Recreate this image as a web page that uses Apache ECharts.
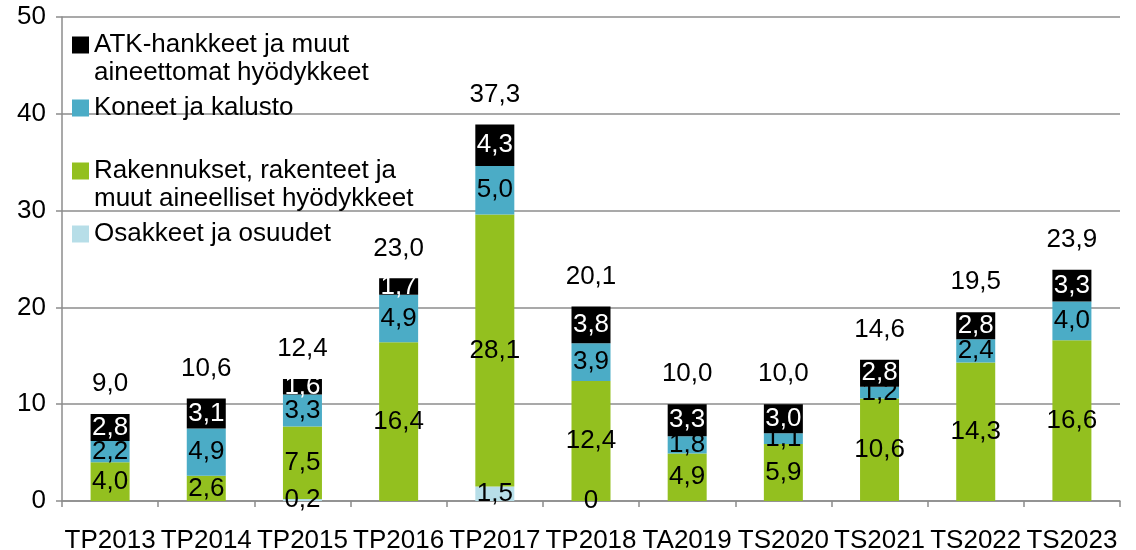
<!DOCTYPE html>
<html lang="fi">

<head>
  <meta charset="UTF-8">
  <title>Investoinnit</title>
  <script src="https://cdn.jsdelivr.net/npm/echarts@6/dist/echarts.min.js"></script>
  <style>
    html, body { margin: 0; padding: 0; background: #fff; }
    #chart { width: 1136px; height: 550px; }
  </style>
</head>

<body>
  <div id="chart"></div>

  <script>
    // luokat ja sarjat (milj. euroa)
    var categories = ['TP2013', 'TP2014', 'TP2015', 'TP2016', 'TP2017', 'TP2018', 'TA2019', 'TS2020', 'TS2021', 'TS2022', 'TS2023']
    var osakkeet = [null, null, 0.2, null, 1.5, 0, null, null, null, null, null]
    var rakennukset = [4.0, 2.6, 7.5, 16.4, 28.1, 12.4, 4.9, 5.9, 10.6, 14.3, 16.6]
    var koneet = [2.2, 4.9, 3.3, 4.9, 5.0, 3.9, 1.8, 1.1, 1.2, 2.4, 4.0]
    var atk = [2.8, 3.1, 1.6, 1.7, 4.3, 3.8, 3.3, 3.0, 2.8, 2.8, 3.3]
    // yhteensä-luvut sellaisenaan kuvasta
    var totals = [9.0, 10.6, 12.4, 23.0, 37.3, 20.1, 10.0, 10.0, 14.6, 19.5, 23.9]

    var font = 'Liberation Sans, Arial, sans-serif'
    var fs = 26
    var gridColor = '#8c8c8c'

    function fmt(v) {
      if (v === 0) return '0'
      return v.toFixed(1).replace('.', ',')
    }

    function segLabel(color) {
      return {
        show: true,
        position: 'inside',
        color: color,
        fontSize: fs,
        fontFamily: font,
        formatter: function (p) { return p.value == null ? '' : fmt(p.value) }
      }
    }

    var mCharts = echarts.init(document.getElementById('chart'))

    var option = {
      animation: false,
      grid: { left: 62, right: 16, top: 17, bottom: 49, containLabel: false, outerBoundsMode: 'none' },
      legend: {
        data: ['ATK-hankkeet ja muut aineettomat hyödykkeet', 'Koneet ja kalusto',
          'Rakennukset, rakenteet ja muut aineelliset hyödykkeet', 'Osakkeet ja osuudet'],
        orient: 'vertical',
        left: 72,
        top: 3,
        padding: 0,
        itemWidth: 17,
        itemHeight: 17,
        itemGap: -21,
        icon: 'rect',
        selectedMode: false,
        // kolme riviä: tyhjä rivi ylös, jotta kuvake osuu ensimmäisen tekstirivin kohdalle
        formatter: function (name) {
          if (name.indexOf('ATK') === 0) return ' \nATK-hankkeet ja muut\naineettomat hyödykkeet'
          if (name.indexOf('Rakennukset') === 0) return ' \nRakennukset, rakenteet ja\nmuut aineelliset hyödykkeet'
          return ' \n' + name + '\n '
        },
        textStyle: {
          fontSize: fs,
          fontFamily: font,
          color: '#000',
          lineHeight: 28
        }
      },
      xAxis: {
        type: 'category',
        data: categories,
        axisLine: { lineStyle: { color: gridColor, width: 1.5 } },
        axisTick: { show: true, length: 6, lineStyle: { color: gridColor, width: 1.5 } },
        axisLabel: { color: '#000', fontSize: fs, fontFamily: font, margin: 27, interval: 0 }
      },
      yAxis: {
        type: 'value',
        min: 0,
        max: 50,
        interval: 10,
        axisLine: { show: true, lineStyle: { color: gridColor, width: 1.5 } },
        axisTick: { show: true, length: 6, lineStyle: { color: gridColor, width: 1.5 } },
        axisLabel: { color: '#000', fontSize: fs, fontFamily: font, margin: 16 },
        splitLine: { lineStyle: { color: gridColor, width: 1.5 } }
      },
      series: [
        {
          name: 'Osakkeet ja osuudet',
          type: 'bar',
          stack: 'inv',
          barWidth: 39,
          data: osakkeet,
          itemStyle: { color: '#b7dee8' },
          label: segLabel('#000')
        },
        {
          name: 'Rakennukset, rakenteet ja muut aineelliset hyödykkeet',
          type: 'bar',
          stack: 'inv',
          data: rakennukset,
          itemStyle: { color: '#93c01f' },
          label: segLabel('#000')
        },
        {
          name: 'Koneet ja kalusto',
          type: 'bar',
          stack: 'inv',
          data: koneet,
          itemStyle: { color: '#4bacc6' },
          label: segLabel('#000')
        },
        {
          name: 'ATK-hankkeet ja muut aineettomat hyödykkeet',
          type: 'bar',
          stack: 'inv',
          data: atk,
          itemStyle: { color: '#000' },
          label: segLabel('#fff')
        },
        {
          // yhteensä-tunnisteet pinon päälle
          name: 'Yhteensä',
          type: 'bar',
          stack: 'inv',
          data: totals.map(function () { return 0 }),
          itemStyle: { color: 'rgba(0,0,0,0)' },
          label: {
            show: true,
            position: 'top',
            distance: 17,
            color: '#000',
            fontSize: fs,
            fontFamily: font,
            formatter: function (p) { return fmt(totals[p.dataIndex]) }
          }
        }
      ]
    }
    mCharts.setOption(option)
  </script>
</body>

</html>
